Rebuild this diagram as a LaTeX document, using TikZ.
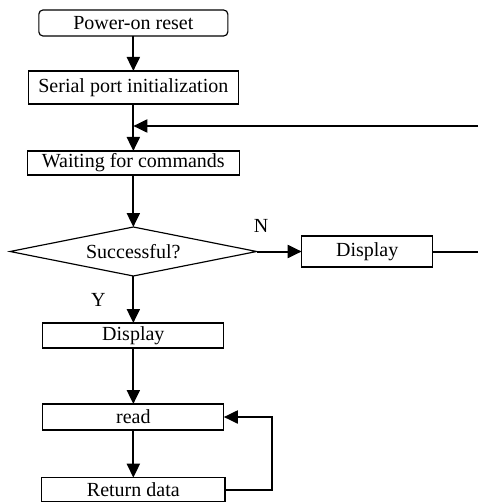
\documentclass[tikz,border=0pt]{standalone}
\usepackage{fontspec}
\setmainfont{Liberation Serif}
\usepackage{tikz}
\usetikzlibrary{arrows.meta}
\usetikzlibrary{positioning}
\usetikzlibrary{shapes.geometric}

\begin{document}
\begin{tikzpicture}[
      font=\fontsize{12}{14}\selectfont,
      box/.style={draw, line width=0.7pt, inner sep=0pt, outer sep=0pt, minimum width=108.6pt, minimum height=15.6pt},
      test/.style={draw, diamond, aspect=5, line width=0.7pt, inner sep=1pt, outer sep=0pt, minimum width=148pt, minimum height=29.4pt},
      flow/.style={line width=1.2pt, -{Triangle[length=8.4pt,width=7.8pt]}},
      plain/.style={line width=1.2pt},
      yn/.style={inner sep=0pt}
    ]
      \useasboundingbox (0,0) rectangle (286.8pt,-301.8pt);
      \coordinate (edge) at (286.8pt,0);

      \node (reset) [box, rounded corners=2.5pt, minimum width=113.4pt] at (80pt,-13.8pt) {Power-on reset};
      \node (init) [box, below=21pt of reset, minimum width=126pt, minimum height=19.8pt] {Serial port initialization};
      \node (wait) [box, below=28.2pt of init, minimum width=127pt, minimum height=14.4pt] {Waiting for commands};
      \node (ok) [test, below=31.2pt of wait] {Successful?};
      \node (showok) [box, below=28.2pt of ok, minimum height=15pt] {Display};
      \node (read) [box, below=33.6pt of showok] {read};
      \node (ret) [box, below=28.6pt of read, minimum width=110pt, minimum height=14.4pt] {Return data};
      \node (showerr) [box, right=27pt of ok, minimum width=78.6pt, minimum height=18.6pt] {Display};

      \coordinate (join) at ([yshift=15pt]wait.north);

      \draw[flow] (reset) -- (init);
      \draw[flow] (init) -- (wait);
      \draw[flow] (join -| edge) -- (join);
      \draw[flow] (wait) -- (ok);
      \draw[flow] (ok) -- node[yn, left=16pt] {Y} (showok);
      \draw[flow] (ok) -- node[yn, pos=0.1, above=11pt] {N} (showerr);
      \draw[plain] (showerr) -- (showerr.east -| edge);
      \draw[flow] (showok) -- (read);
      \draw[flow] (read) -- (ret);
      \draw[flow] (ret.east) -- ++(28.2pt,0) |- (read.east);
    \end{tikzpicture}
\end{document}
